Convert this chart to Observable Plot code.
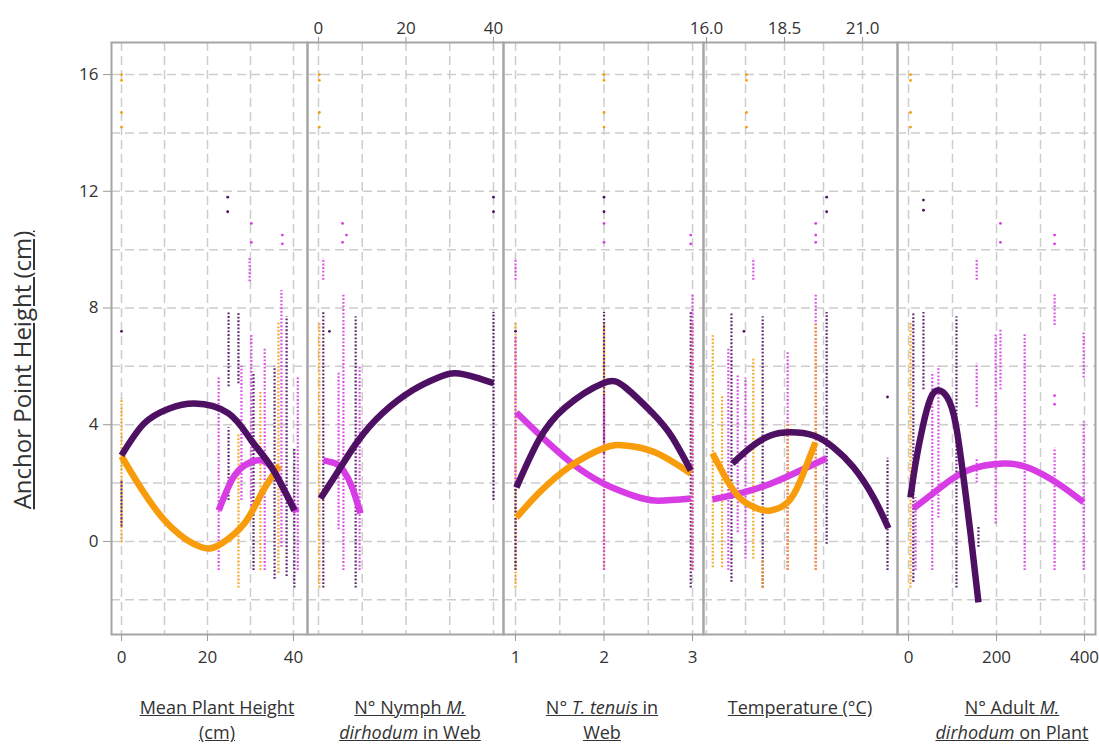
<!DOCTYPE html>
<html><head><meta charset="utf-8">
<script src="https://cdn.jsdelivr.net/npm/d3@7"></script>
<script src="https://cdn.jsdelivr.net/npm/@observablehq/plot@0.6"></script>
<style>
body{margin:0;background:#fff;}
#wrap{position:relative;width:1099px;height:746px;overflow:hidden;font-family:"Open Sans",sans-serif;}
.panel{position:absolute;top:0;}
.panel svg{overflow:visible;background:transparent;}
.xt{position:absolute;top:695px;width:240px;text-align:center;font-size:18px;line-height:25px;color:#333;text-decoration:underline;white-space:nowrap;}
.yt{position:absolute;left:-138px;top:356px;width:320px;height:28px;text-align:center;font-size:24px;line-height:28px;color:#333;text-decoration:underline;transform:rotate(-90deg);white-space:nowrap;}
</style></head>
<body><div id="wrap"></div>
<script>
// Series: A = dark purple, B = magenta, C = orange
const seriesKeys = ["A", "B", "C"];

// ---- Panel 1: Mean Plant Height (cm)
const plantCurveA = [[0,2.95],[5.3,4.05],[11,4.55],[17,4.73],[24.9,4.39],[30.2,3.46],[34.9,2.54],[40.2,1.06]];
const plantCurveB = [[22.6,1.06],[25.6,2.09],[28.6,2.6],[31.9,2.78],[34.9,2.54],[37.9,1.75],[40.7,1.0]];
const plantCurveC = [[0,2.92],[5.3,1.65],[11.6,0.48],[18.6,-0.2],[23.3,-0.07],[28.6,0.62],[32.6,1.65],[36.7,2.6]];
const plantCols = [
  ["C",0,-0.05,4.9],["A",0,0.5,2.1],["A",24.9,5.3,7.85],["A",24.9,1.4,3.9],["B",22.6,-1.0,5.6],
  ["A",27.2,5.4,7.85],["C",27.2,-1.6,3.7],["B",27.9,1.4,6.0],["B",30.2,1.2,7.1],["B",29.8,8.9,9.7],
  ["A",30.7,-1.0,5.8],["B",33.3,-1.0,6.6],["C",32.3,-1.0,5.1],["A",35.6,-1.3,6.0],["C",36.5,-1.1,7.5],
  ["B",37.2,-0.2,8.6],["A",38.4,-1.2,7.7],["A",40.2,-1.6,3.2],["B",41,-1.0,5.6]
];
const plantDots = [
  ["C",0,16],["C",0,15.8],["C",0,14.7],["C",0,14.2],["A",0,7.2],["A",24.7,11.8],["A",24.7,11.3],
  ["B",30.2,10.9],["B",30.2,10.25],["B",37.4,10.5],["B",37.4,10.2]
];

// ---- Panel 2: N° Nymph M. dirhodum in Web
const nymphCurveA = [[0.46,1.47],[4.6,2.43],[9.1,3.46],[14.6,4.39],[21.5,5.18],[27.4,5.62],[31.3,5.76],[35.9,5.62],[40,5.42]];
const nymphCurveB = [[1.1,2.78],[3.9,2.67],[5.7,2.43],[7.7,1.85],[9.6,0.96]];
const nymphCols = [
  ["C",0.2,-1.6,7.5],["A",1.1,-1.6,7.85],["B",1.1,8.95,9.7],["B",4.6,0.4,5.8],["B",5.7,-1.0,8.5],
  ["A",8.5,-1.6,7.7],["B",9.4,-1.0,6.0],["A",40,1.4,7.85]
];
const nymphDots = [
  ["C",0.2,16],["C",0.2,15.8],["C",0.2,14.7],["C",0.2,14.2],["A",2.5,7.2],["B",5.5,10.9],["B",5.5,10.25],
  ["B",6.4,10.5],["A",40,11.8],["A",40,11.3]
];

// ---- Panel 3: N° T. tenuis in Web
const tenuisCurveA = [[1.01,1.85],[1.26,3.46],[1.56,4.59],[1.99,5.42],[2.24,5.28],[2.55,4.39],[2.77,3.57],[2.98,2.43]];
const tenuisCurveB = [[1.01,4.42],[1.34,3.46],[1.64,2.67],[1.99,1.99],[2.32,1.58],[2.58,1.4],[2.98,1.47]];
const tenuisCurveC = [[1.01,0.82],[1.26,1.65],[1.6,2.54],[1.99,3.19],[2.24,3.29],[2.58,3.05],[2.98,2.33]];
const tenuisCols = [
  ["C",1.0,-1.6,7.5],["B",1.0,8.95,9.7],["B",1.0,2.0,7.0],["A",1.0,-1.0,2.0],["C",2.0,-1.0,7.5],
  ["A",2.0,3.0,7.85],["B",2.0,-1.0,5.0],["A",2.98,-1.6,7.85],["C",3.0,-1.0,7.5],["B",3.0,-1.0,8.5]
];
const tenuisDots = [
  ["C",2,16],["C",2,15.8],["C",2,14.7],["C",2,14.2],["A",1.0,7.2],["A",2,11.8],["A",2,11.3],
  ["B",2,10.9],["B",2,10.25],["B",2.98,10.5],["B",2.98,10.2]
];

// ---- Panel 4: Temperature (°C)
const tempCurveA = [[16.83,2.67],[17.41,3.22],[18.05,3.63],[18.69,3.74],[19.43,3.63],[20.07,3.22],[20.71,2.54],[21.35,1.51],[21.83,0.45]];
const tempCurveB = [[16.19,1.44],[17.19,1.68],[18.15,2.02],[19.01,2.43],[19.85,2.85]];
const tempCurveC = [[16.19,3.02],[16.61,2.19],[17.09,1.47],[17.63,1.13],[18.05,1.06],[18.6,1.34],[19.01,2.09],[19.49,3.39]];
const tempCols = [
  ["C",16.2,-0.9,7.05],["C",16.5,-0.9,5.0],["A",16.8,-1.4,7.85],["B",16.7,-1.0,6.6],["B",17.0,0.3,5.7],
  ["C",17.5,-0.6,6.3],["B",17.25,-0.6,5.6],["B",17.5,8.95,9.7],["A",17.8,-1.6,7.7],["C",17.8,-1.6,-0.6],
  ["B",18.6,-1.0,6.5],["C",18.6,-1.0,4.0],["B",19.5,-1.0,8.5],["C",19.5,-1.0,7.5],["A",19.85,-0.1,7.85],
  ["A",21.8,-1.0,2.85]
];
const tempDots = [
  ["C",17.28,16],["C",17.28,15.8],["C",17.28,14.7],["C",17.28,14.2],["A",17.2,7.2],["B",19.5,10.9],
  ["B",19.5,10.5],["B",19.5,10.25],["A",19.85,11.8],["A",19.85,11.3],["A",21.8,4.95]
];

// ---- Panel 5: N° Adult M. dirhodum on Plant
const adultCurveA = [[4.5,1.51],[16,2.67],[32,3.91],[50,4.9],[68,5.18],[88,4.94],[107,4.05],[125,2.19],[141,0.27],[159,-2.09]];
const adultCurveB = [[11,1.13],[73,1.85],[134,2.43],[216,2.67],[277,2.5],[339,1.99],[398,1.34]];
const adultCols = [
  ["C",4.5,-1.6,7.5],["A",11,-1.4,7.85],["B",16,-1.0,1.5],["A",34,5.2,7.85],["B",54,-1.0,5.8],
  ["B",68,0.8,6.0],["A",109,-1.6,7.7],["B",155,4.6,6.1],["B",155,8.95,9.7],["B",155,2.0,2.8],
  ["A",159,-0.2,0.5],["B",198,0.6,7.1],["B",209,5.2,7.3],["B",264,-1.0,7.1],["B",332,7.4,8.5],
  ["B",332,-1.0,3.2],["B",398,5.6,7.15],["B",398,-1.0,4.1]
];
const adultDots = [
  ["C",4.5,16],["C",4.5,15.8],["C",4.5,14.7],["C",4.5,14.2],["A",34,11.7],["A",34,11.35],
  ["B",209,10.9],["B",209,10.25],["B",332,10.5],["B",332,10.2],["B",332,5.0],["B",332,4.7]
];

// tick values
const yTicks = [0, 4, 8, 12, 16];
const yGrid = [-2, 0, 2, 4, 6, 8, 10, 12, 14, 16];
const plantTicks = [0, 20, 40], plantGrid = [0, 10, 20, 30, 40];
const nymphTicks = [0, 20, 40], nymphGrid = [0, 10, 20, 30, 40];
const tenuisTicks = [1, 2, 3], tenuisGrid = [1, 1.5, 2, 2.5, 3];
const tempTicks = [16, 18.5, 21], tempGrid = [16, 17.25, 18.5, 19.75, 21];
const adultTicks = [0, 200, 400], adultGrid = [0, 100, 200, 300, 400];

const colors = {A: "#4e1062", B: "#d73ce5", C: "#f89c0b"};
const plainFmt = d => String(d);

const panels = [
  {left:0, width:307, ml:111, domain:[-2.33,43.26], grid:plantGrid, ticks:plantTicks, anchor:"bottom", fmt:plainFmt,
   curves:[["B",plantCurveB],["C",plantCurveC],["A",plantCurveA]], cols:plantCols, dots:plantDots, yAxis:true},
  {left:307, width:196, ml:0, domain:[-2.51,42.29], grid:nymphGrid, ticks:nymphTicks, anchor:"top", fmt:plainFmt,
   curves:[["B",nymphCurveB],["A",nymphCurveA]], cols:nymphCols, dots:nymphDots},
  {left:503, width:200, ml:0, domain:[0.864,3.124], grid:tenuisGrid, ticks:tenuisTicks, anchor:"bottom", fmt:plainFmt,
   curves:[["B",tenuisCurveB],["C",tenuisCurveC],["A",tenuisCurveA]], cols:tenuisCols, dots:tenuisDots},
  {left:703, width:194, ml:0, domain:[15.904,22.12], grid:tempGrid, ticks:tempTicks, anchor:"top", fmt:d3.format(".1f"),
   curves:[["B",tempCurveB],["A",tempCurveA],["C",tempCurveC]], cols:tempCols, dots:tempDots},
  {left:897, width:198, ml:0, domain:[-25,425], grid:adultGrid, ticks:adultTicks, anchor:"bottom", fmt:plainFmt,
   curves:[["B",adultCurveB],["A",adultCurveA]], cols:adultCols, dots:adultDots}
];

const wrap = document.getElementById("wrap");
const axisStyle = {stroke:"#9a9a9a", fill:"#333", fontSize:17, label:null};

for (const p of panels) {
  const marks = [
    Plot.gridY({ticks: yGrid, stroke:"#cdcdcd", strokeOpacity:1, strokeWidth:1.5, strokeDasharray:"9,5"}),
    Plot.gridX({ticks: p.grid, stroke:"#cdcdcd", strokeOpacity:1, strokeWidth:1.5, strokeDasharray:"9,5"}),
    Plot.ruleX(p.cols, {x: d => d[1], y1: d => d[2], y2: d => d[3], stroke: d => d[0],
      strokeWidth: 2.2, strokeDasharray: "1.8,1.8", strokeOpacity: 0.9}),
    Plot.dot(p.dots, {x: d => d[1], y: d => d[2], fill: d => d[0], r: 1.4, stroke: null}),
  ];
  for (const [s, pts] of p.curves) {
    marks.push(Plot.line(pts, {x: d => d[0], y: d => d[1], stroke: colors[s], strokeWidth: 6.5,
      curve: "natural", strokeLinecap: "butt"}));
  }
  marks.push(Plot.frame({stroke:"#a5a5a5", strokeWidth:2}));
  if (p.anchor === "bottom") {
    marks.push(Plot.axisX({anchor:"bottom", ticks:p.ticks, tickFormat:p.fmt, tickSize:7, tickPadding:9, ...axisStyle}));
  } else {
    marks.push(Plot.axisX({anchor:"top", ticks:p.ticks, tickFormat:p.fmt, tickSize:6, tickPadding:3, ...axisStyle}));
  }
  if (p.yAxis) {
    marks.push(Plot.axisY({anchor:"left", ticks:yTicks, tickFormat:plainFmt, tickSize:8, tickPadding:5, ...axisStyle}));
  }
  const svg = Plot.plot({
    width: p.width, height: 690,
    marginLeft: p.ml, marginRight: 0, marginTop: 42, marginBottom: 56,
    x: {domain: p.domain, axis: null},
    y: {domain: [-3.19, 17.1], axis: null},
    color: {domain: seriesKeys, range: [colors.A, colors.B, colors.C]},
    style: {fontFamily: "'Open Sans', sans-serif", background: "transparent", overflow: "visible"},
    marks
  });
  const div = document.createElement("div");
  div.className = "panel";
  div.style.left = p.left + "px";
  div.appendChild(svg);
  wrap.appendChild(div);
}

const xTitles = [
  [217, "Mean Plant Height<br>(cm)"],
  [410, "N° Nymph <i>M.</i><br><i>dirhodum</i> in Web"],
  [602, "N° <i>T. tenuis</i> in<br>Web"],
  [800, "Temperature (°C)"],
  [1012, "N° Adult <i>M.</i><br><i>dirhodum</i> on Plant"]
];
for (const [cx, html] of xTitles) {
  const d = document.createElement("div");
  d.className = "xt";
  d.style.left = (cx - 120) + "px";
  d.innerHTML = html;
  wrap.appendChild(d);
}
const yt = document.createElement("div");
yt.className = "yt";
yt.textContent = "Anchor Point Height (cm)";
wrap.appendChild(yt);
</script>
</body></html>
